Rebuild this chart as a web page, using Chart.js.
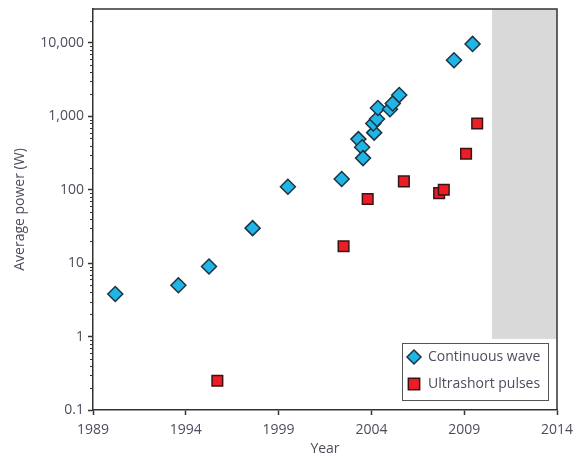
<!DOCTYPE html>
<html>
<head>
<meta charset="utf-8">
<script src="https://cdn.jsdelivr.net/npm/chart.js@4.4.1/dist/chart.umd.min.js"></script>
<style>
  html, body { margin: 0; padding: 0; background: #fff; }
  #wrap { width: 574px; height: 457px; }
</style>
</head>
<body>
<div id="wrap"><canvas id="powerChart" width="574" height="457"></canvas></div>
<script>
// continuous wave fibre lasers
const cwYears = [1990.2, 1993.6, 1995.25, 1997.6, 1999.5, 2002.4, 2003.3, 2003.5, 2003.55, 2004.15, 2004.1, 2004.3, 2004.35, 2005.0, 2005.15, 2005.5, 2008.45, 2009.45];
const cwPower = [3.8, 5, 9, 30, 110, 140, 490, 380, 270, 600, 800, 920, 1300, 1250, 1500, 1950, 5800, 9700];

// ultrashort pulse fibre lasers
const usYears = [1995.7, 2002.5, 2003.8, 2005.75, 2007.65, 2007.9, 2009.1, 2009.7];
const usPower = [0.25, 17, 75, 130, 90, 100, 310, 800];

const xTicks = [1989, 1994, 1999, 2004, 2009, 2014];
const yTicks = [0.1, 1, 10, 100, 1000, 10000];
const seriesNames = ['Continuous wave', 'Ultrashort pulses'];

// grey "future" band
const shadeFromYear = 2010.5;
const shadeDownTo = 0.93;

const textColor = '#4d4d5e';
const axisColor = '#333';
const cwFill = '#1fb5e6';
const usFill = '#ee1c25';

const toPoints = (xs, ys) => xs.map((x, i) => ({x: x, y: ys[i]}));

function marker(ctx, style, cx, cy, r) {
  ctx.beginPath();
  if (style === 'rectRot') {
    ctx.moveTo(cx, cy - r);
    ctx.lineTo(cx + r, cy);
    ctx.lineTo(cx, cy + r);
    ctx.lineTo(cx - r, cy);
  } else {
    const h = r * Math.SQRT1_2;
    ctx.rect(cx - h, cy - h, 2 * h, 2 * h);
  }
  ctx.closePath();
  ctx.fill();
  ctx.stroke();
}

const shadeAndFrame = {
  id: 'shadeAndFrame',
  beforeDatasetsDraw(chart) {
    const {ctx, chartArea: a, scales: {x, y}} = chart;
    const x0 = x.getPixelForValue(shadeFromYear);
    const y1 = y.getPixelForValue(shadeDownTo);
    ctx.save();
    ctx.fillStyle = '#d9d9d9';
    ctx.fillRect(x0, a.top, a.right - x0, y1 - a.top);
    ctx.restore();
  },
  afterDatasetsDraw(chart) {
    const {ctx, chartArea: a, scales: {y}} = chart;
    ctx.save();
    ctx.strokeStyle = axisColor;
    ctx.lineWidth = 1.5;
    ctx.beginPath();
    ctx.moveTo(a.left, a.top);
    ctx.lineTo(a.right, a.top);
    ctx.lineTo(a.right, a.bottom);
    ctx.stroke();
    // minor log ticks on the y axis
    ctx.lineWidth = 1;
    ctx.beginPath();
    for (let d = 0; d < yTicks.length; d++) {
      for (let m = 2; m <= 9; m++) {
        const v = yTicks[d] * m;
        if (v > y.max) break;
        const py = Math.round(y.getPixelForValue(v)) + 0.5;
        ctx.moveTo(a.left - 3, py);
        ctx.lineTo(a.left, py);
      }
    }
    ctx.stroke();
    ctx.restore();
  }
};

const insideLegend = {
  id: 'insideLegend',
  afterDraw(chart) {
    const {ctx, chartArea: a} = chart;
    const w = 146, h = 57;
    const left = a.right - 9 - w;
    const top = a.bottom - 10 - h;
    ctx.save();
    ctx.fillStyle = '#fff';
    ctx.fillRect(left, top, w, h);
    ctx.strokeStyle = '#555';
    ctx.lineWidth = 1;
    ctx.strokeRect(left + 0.5, top + 0.5, w, h);
    ctx.font = '14px "Open Sans", sans-serif';
    ctx.textBaseline = 'middle';
    chart.data.datasets.forEach((ds, i) => {
      const cy = top + 14 + i * 27;
      ctx.fillStyle = ds.backgroundColor;
      ctx.strokeStyle = ds.borderColor;
      ctx.lineWidth = 1.5;
      marker(ctx, ds.pointStyle, left + 12, cy, ds.pointStyle === 'rectRot' ? 7 : 8);
      ctx.fillStyle = textColor;
      ctx.fillText(ds.label, left + 26, cy);
    });
    ctx.restore();
  }
};

new Chart(document.getElementById('powerChart'), {
  type: 'scatter',
  data: {
    datasets: [
      {
        label: seriesNames[0],
        data: toPoints(cwYears, cwPower),
        pointStyle: 'rectRot',
        pointRadius: 7.5,
        backgroundColor: cwFill,
        borderColor: '#1d3440',
        borderWidth: 1.5
      },
      {
        label: seriesNames[1],
        data: toPoints(usYears, usPower),
        pointStyle: 'rect',
        pointRadius: 7.5,
        backgroundColor: usFill,
        borderColor: '#3a1414',
        borderWidth: 1.5
      }
    ]
  },
  options: {
    responsive: false,
    animation: false,
    layout: {padding: {top: 2, right: 17, left: 0, bottom: 0}},
    plugins: {legend: {display: false}, tooltip: {enabled: false}},
    scales: {
      x: {
        type: 'linear',
        min: 1989,
        max: 2014,
        afterBuildTicks: s => { s.ticks = xTicks.map(v => ({value: v})); },
        afterFit: s => { s.height = 47; s.paddingLeft = 0; s.paddingRight = 0; },
        grid: {drawOnChartArea: false, tickLength: 5, tickColor: axisColor, tickWidth: 1.5},
        border: {color: axisColor, width: 1.5},
        ticks: {
          color: textColor,
          font: {family: '"Open Sans", sans-serif', size: 14},
          padding: 7,
          maxRotation: 0,
          callback: v => String(v)
        },
        title: {
          display: true,
          text: 'Year',
          color: textColor,
          font: {family: '"Open Sans", sans-serif', size: 14},
          padding: {top: 0, bottom: 0}
        }
      },
      y: {
        type: 'logarithmic',
        min: 0.1,
        max: 29000,
        afterBuildTicks: s => { s.ticks = yTicks.map(v => ({value: v})); },
        afterFit: s => { s.width = 93; s.paddingTop = 0; s.paddingBottom = 0; },
        grid: {drawOnChartArea: false, tickLength: 5, tickColor: axisColor, tickWidth: 1.5},
        border: {color: axisColor, width: 1.5},
        ticks: {
          color: textColor,
          font: {family: '"Open Sans", sans-serif', size: 14},
          padding: 4,
          callback: v => v >= 1 ? v.toLocaleString('en-US') : String(v)
        },
        title: {
          display: true,
          text: 'Average power (W)',
          color: textColor,
          font: {family: '"Open Sans", sans-serif', size: 14},
          padding: {top: 12, bottom: 0}
        }
      }
    }
  },
  plugins: [shadeAndFrame, insideLegend]
});
</script>
</body>
</html>
